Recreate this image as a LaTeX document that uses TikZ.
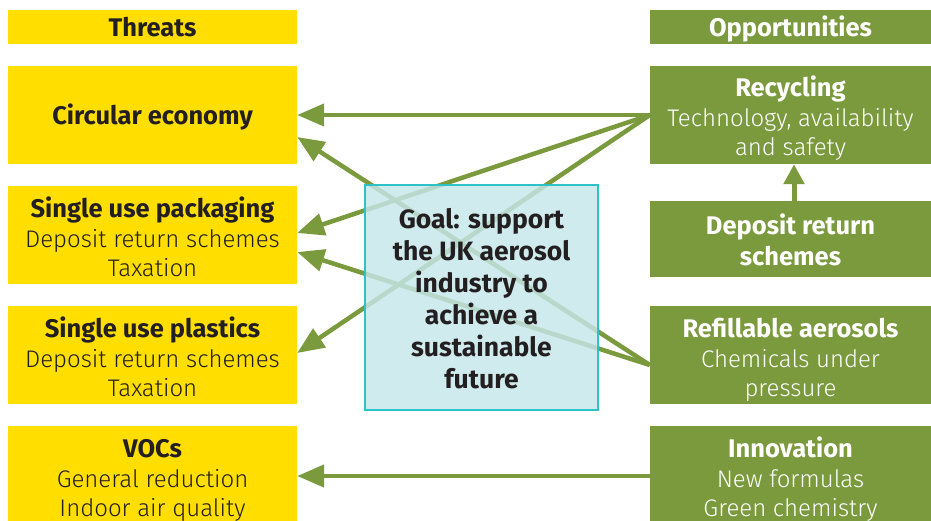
\documentclass[tikz,border=0pt]{standalone}
\usepackage{fontspec}
\setmainfont{Fira Sans}
\newfontfamily\lightfont{Fira Sans Light}
\usetikzlibrary{arrows.meta}
\definecolor{ylw}{HTML}{FFDE00}
\definecolor{grn}{HTML}{7A9A3D}
\definecolor{tealfill}{HTML}{C5E6EA}
\definecolor{tealline}{HTML}{2CC2C8}
\definecolor{ink}{HTML}{231F20}
\newcommand\mytitle[1]{{\bfseries\fontsize{25.5}{29.5}\selectfont #1}}
\newcommand\mysub[1]{{\lightfont\fontsize{24}{29.5}\selectfont #1}}
% lower a centred block of lines without changing its extent
\newcommand\lowered[2][6.5pt]{\raisebox{-#1}[\height][\depth]{\begin{tabular}{@{}c@{}}#2\end{tabular}}}
\pgfdeclarelayer{bg}
\pgfsetlayers{bg,main}
\begin{document}
\begin{tikzpicture}[x=1pt,y=-1pt,
  threat/.style={fill=ylw, draw=none, minimum width=289pt, inner sep=0pt, text=ink, font=\fontsize{24}{29.5}\selectfont},
  opp/.style={fill=grn, draw=none, minimum width=281pt, inner sep=0pt, text=white, font=\fontsize{24}{29.5}\selectfont},
  conn/.style={grn, line width=4.5pt, -{Triangle[length=27pt,width=22pt]}},
  upconn/.style={grn, line width=5pt, -{Triangle[length=20pt,width=20pt]}},
  goal/.style={fill=tealfill, fill opacity=0.82, text opacity=1, draw=tealline, line width=2pt, minimum width=233pt, minimum height=225pt, inner sep=0pt, text=ink, font=\bfseries\fontsize{26.5}{32}\selectfont}
]
\useasboundingbox (0,0) rectangle (931,520);
% left column
\node[threat, minimum height=34pt] (th) at (152.5,27) {\lowered[3.5pt]{\mytitle{Threats}}};
\node[threat, minimum height=98pt] (ce) at (152.5,115) {\lowered[3.5pt]{\mytitle{Circular economy}}};
\node[threat, minimum height=98pt] (sup) at (152.5,235) {\lowered{\mytitle{Single use packaging}\\\mysub{Deposit return schemes}\\\mysub{Taxation}}};
\node[threat, minimum height=98pt] (spl) at (152.5,355) {\lowered{\mytitle{Single use plastics}\\\mysub{Deposit return schemes}\\\mysub{Taxation}}};
\node[threat, minimum height=98pt] (voc) at (152.5,475) {\lowered{\mytitle{VOCs}\\\mysub{General reduction}\\\mysub{Indoor air quality}}};
% right column
\node[opp, minimum height=34pt] (op) at (790.5,27) {\lowered[3.5pt]{\mytitle{Opportunities}}};
\node[opp, minimum height=98pt] (rec) at (790.5,115) {\lowered[5.5pt]{\mytitle{Recycling}\\\mysub{Technology, availability}\\\mysub{and safety}}};
\node[opp, minimum height=76pt] (drs) at (790.5,239) {\lowered[5.5pt]{\mytitle{Deposit return}\\[1.5pt]\mytitle{schemes}}};
\node[opp, minimum height=98pt] (ref) at (790.5,355) {\lowered{\mytitle{Refillable aerosols}\\\mysub{Chemicals under}\\\mysub{pressure}}};
\node[opp, minimum height=98pt] (inn) at (790.5,475) {\lowered{\mytitle{Innovation}\\\mysub{New formulas}\\\mysub{Green chemistry}}};
% goal
\node[goal] (goal) at (481.5,297) {\lowered[5.5pt]{Goal: support\\the UK aerosol\\industry to\\achieve a\\sustainable\\future}};
% connectors
\begin{pgfonlayer}{bg}
\draw[conn] (rec.west) -- (ce.east);
\draw[conn] (rec.west) -- ([yshift=2pt]sup.east);
\draw[conn] (rec.west) -- ([yshift=2pt]spl.east);
\draw[conn] ([yshift=-10pt]ref.west) -- ([yshift=-22pt]ce.east);
\draw[conn] ([yshift=-10pt]ref.west) -- ([yshift=-17pt]sup.east);
\draw[conn] ([yshift=-1pt]inn.west) -- ([yshift=-1pt]voc.east);
\end{pgfonlayer}
\draw[upconn] ([xshift=3.5pt]drs.north) -- ([xshift=3.5pt]rec.south);
\end{tikzpicture}
\end{document}
